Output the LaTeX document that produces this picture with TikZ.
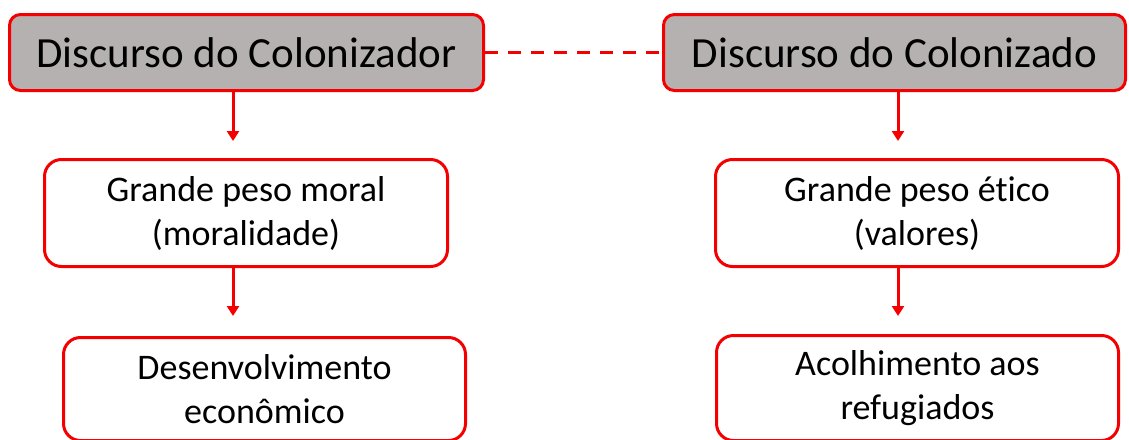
\documentclass[tikz,border=0pt]{standalone}
\usepackage{fontspec}
\setmainfont[Ligatures=NoCommon]{Carlito}
\usetikzlibrary{arrows.meta}
\definecolor{bred}{HTML}{F50000}
\definecolor{bgray}{HTML}{B5B1B0}
\tikzset{
  headbox/.style={draw=bred, line width=3pt, fill=bgray, rounded corners=11pt,
    inner sep=0pt, font=\fontsize{43}{50}\selectfont, text=black},
  subbox/.style={draw=bred, line width=3pt, fill=white, rounded corners=17pt,
    inner sep=0pt, align=center, font=\fontsize{36}{44}\selectfont, text=black},
  arr/.style={draw=bred, line width=3pt, -{Triangle[width=12pt,length=10pt]}},
  link/.style={draw=bred, line width=3pt, dash pattern=on 13pt off 10pt}
}
\begin{document}
\begin{tikzpicture}[x=1pt,y=-1pt]
\useasboundingbox (0,0) rectangle (1129,439);
\clip (0,0) rectangle (1129,439);
\node[headbox, minimum width=474pt, minimum height=76pt] (cz) at (246.5,52.5) {Discurso do Colonizador};
\node[headbox, minimum width=462pt, minimum height=76pt] (cd) at (894.5,52.5) {Discurso do Colonizado};
\node[subbox, minimum width=403pt, minimum height=107pt] (m) at (246,213) {Grande peso moral\\(moralidade)};
\node[subbox, minimum width=403pt, minimum height=107pt] (e) at (917,213) {Grande peso ético\\(valores)};
\node[subbox, minimum width=402pt, minimum height=103pt] (d) at (264.5,389) {Desenvolvimento\\econômico};
\node[subbox, minimum width=402pt, minimum height=105pt] (a) at (917.5,388) {Acolhimento aos\\refugiados};
\coordinate (t1) at (233,141);
\coordinate (t2) at (233,316);
\coordinate (t3) at (898,141);
\coordinate (t4) at (898,316);
\draw[link] (cz.east) -- (cd.west);
\draw[arr] (cz.south -| t1) -- (t1);
\draw[arr] (m.south -| t2) -- (t2);
\draw[arr] (cd.south -| t3) -- (t3);
\draw[arr] (e.south -| t4) -- (t4);
\end{tikzpicture}
\end{document}
